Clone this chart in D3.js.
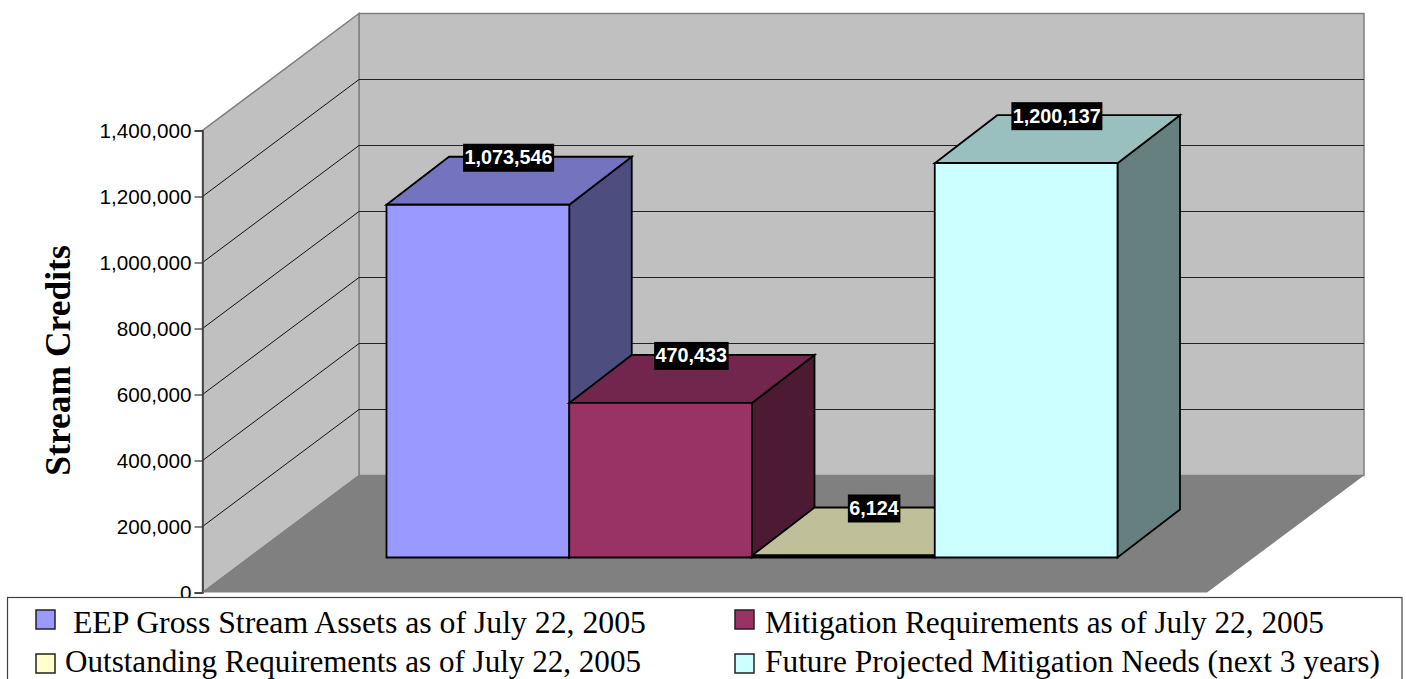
<!DOCTYPE html>
<html><head><meta charset="utf-8">
<script src="https://cdn.jsdelivr.net/npm/d3@7"></script>
<style>html,body{margin:0;padding:0;background:#fff;overflow:hidden}svg{display:block}</style>
</head><body><div id="c"></div>
<script>
const categories = ["EEP Gross Stream Assets as of July 22, 2005","Mitigation Requirements as of July 22, 2005","Outstanding Requirements as of July 22, 2005","Future Projected Mitigation Needs (next 3 years)"];
const legendLabels = ["\u00a0EEP Gross Stream Assets as of July 22, 2005","Mitigation Requirements as of July 22, 2005","Outstanding Requirements as of July 22, 2005","Future Projected Mitigation Needs (next 3 years)"];
const values = [1073546,470433,6124,1200137];
const colors = ["#9999FF","#993366","#FFFFCC","#CCFFFF"];
const tickValues = [0,200000,400000,600000,800000,1000000,1200000,1400000];
const axisTitle = "Stream Credits";

const W=1406,H=679;
const svg=d3.select("#c").append("svg").attr("width",W).attr("height",H);
const y=d3.scaleLinear().domain([0,1400000]).range([592.5,130.5]);
const h=d3.scaleLinear().domain([0,1400000]).range([0,460]);
const wall={x0:202.5,x1:359,xr:1364,dy:117};
const yBack=v=>y(v)-wall.dy;
const poly=(pts,fill,stroke,sw)=>svg.append("path").attr("d",d3.line()(pts)+"Z").attr("fill",fill).attr("stroke",stroke||"none").attr("stroke-width",sw||1).attr("stroke-linejoin","miter");
const seg=(a,b,col,sw)=>svg.append("line").attr("x1",a[0]).attr("y1",a[1]).attr("x2",b[0]).attr("y2",b[1]).attr("stroke",col).attr("stroke-width",sw||1);

// walls and floor
poly([[wall.x1,yBack(0)],[wall.x1,yBack(1400000)],[wall.xr,yBack(1400000)],[wall.xr,yBack(0)]],"#C0C0C0","#808080",1.5);
poly([[wall.x0,y(0)],[wall.x0,y(1400000)],[wall.x1,yBack(1400000)],[wall.x1,yBack(0)]],"#C0C0C0","#808080",1.5);
poly([[wall.x0,y(0)],[wall.x1,yBack(0)],[wall.xr,yBack(0)],[wall.xr-157,y(0)]],"#808080");

// gridlines
tickValues.filter(t=>t>0&&t<1400000).forEach(t=>{
  seg([wall.x0,y(t)],[wall.x1,yBack(t)],"#111");
  seg([wall.x1,yBack(t)],[wall.xr,yBack(t)],"#222",1.2);
});

// axis
const axis=d3.axisLeft(y).tickValues(tickValues).tickFormat(d3.format(",")).tickSize(8).tickPadding(3);
const gA=svg.append("g").attr("transform",`translate(${wall.x0},0)`).call(axis);
gA.selectAll("text").attr("font-family","'Liberation Sans',Arial,sans-serif").attr("font-size",20.7).attr("fill","#000");
gA.selectAll("line").attr("stroke","#333").attr("stroke-width",1.2);
gA.select(".domain").attr("stroke","#333").attr("stroke-width",1.5);
seg([wall.x0,y(0)],[wall.x1-0,yBack(0)],"#808080");

svg.append("text").attr("transform","translate(70,360.5) rotate(-90)").attr("text-anchor","middle")
  .attr("font-family","'Liberation Serif','Times New Roman',serif").attr("font-weight","bold").attr("font-size",35.5).attr("fill","#000").text(axisTitle);

// bars
const x=d3.scaleBand().domain(categories).range([386.5,1117.5]).padding(0);
const base=557.5, depth={x:62.5,y:48};
const shade=(c,k)=>{const r=d3.rgb(c);return d3.rgb(r.r*k,r.g*k,r.b*k).formatHex();};
categories.forEach((c,i)=>{
  const x0=x(c),x1=x0+x.bandwidth(),t=base-h(values[i]);
  poly([[x1,base],[x1,t],[x1+depth.x,t-depth.y],[x1+depth.x,base-depth.y]],shade(colors[i],0.5),"#000",1.8);
  poly([[x0,t],[x0+depth.x,t-depth.y],[x1+depth.x,t-depth.y],[x1,t]],shade(colors[i],0.75),"#000",1.8);
  poly([[x0,base],[x0,t],[x1,t],[x1,base]],colors[i],"#000",1.8);
});
// data labels
categories.forEach((c,i)=>{
  const cx=x(c)+x.bandwidth()/2+depth.x/2-0.5, cy=base-h(values[i])-depth.y+1;
  const g=svg.append("g");
  const tx=g.append("text").attr("x",cx).attr("y",cy+6.5).attr("text-anchor","middle")
    .attr("font-family","'Liberation Sans',Arial,sans-serif").attr("font-weight","bold").attr("font-size",19.8).attr("fill","#fff").text(d3.format(",")(values[i]));
  const b=tx.node().getBBox();
  g.insert("rect","text").attr("x",cx-b.width/2-1.5).attr("y",cy-14).attr("width",b.width+3).attr("height",28).attr("fill","#000");
});

// legend
svg.append("rect").attr("x",7.5).attr("y",597.5).attr("width",1394.5).attr("height",100).attr("fill","#fff").attr("stroke","#404040").attr("stroke-width",1.2);
const legendX=[36,735],legendTx=[65,765],legendY=[610,654],legendBase=[633,672],legendLen=[581,559,576,615];
legendLabels.forEach((l,i)=>{
  const col=i%2,row=i>>1;
  svg.append("rect").attr("x",legendX[col]).attr("y",legendY[row]).attr("width",19).attr("height",19).attr("fill",colors[i]).attr("stroke","#222").attr("stroke-width",1.5);
  svg.append("text").attr("x",legendTx[col]).attr("y",legendBase[row]).attr("font-family","'Liberation Serif','Times New Roman',serif").attr("font-size",31.2).attr("fill","#000")
    .attr("textLength",legendLen[i]).attr("lengthAdjust","spacingAndGlyphs").text(l);
});
</script></body></html>
